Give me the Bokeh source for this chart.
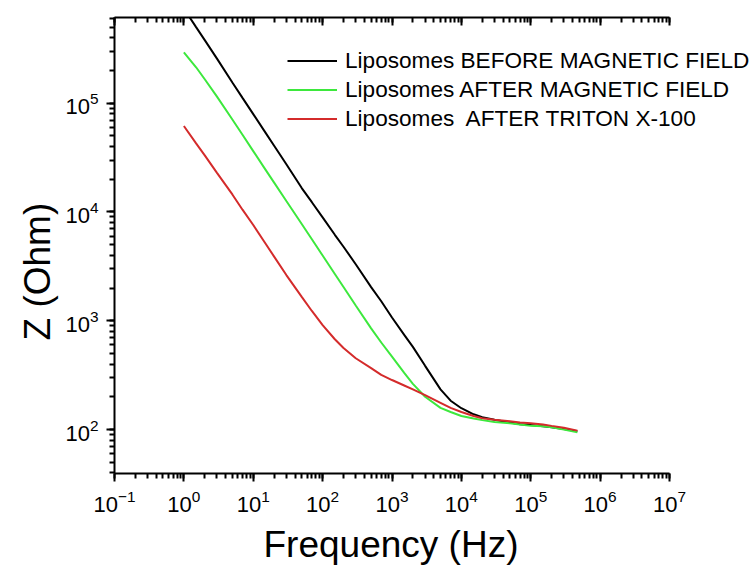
from bokeh.plotting import figure
from bokeh.models import LogAxis, LogTicker, Legend, LegendItem, CustomJSTickFormatter, Range1d, Title
from bokeh.embed import file_html
from bokeh.resources import INLINE

# ---- data ----
freq_hz = [1, 1.5, 2, 3, 5, 7, 10, 15, 20, 30, 50, 70, 100, 150, 200, 300, 500, 700,
           1000, 1500, 2000, 3000, 5000, 7000, 10000, 15000, 20000, 30000, 50000,
           70000, 100000, 150000, 200000, 300000, 470000]

z_before_field = [741000, 501000, 380000, 257000, 155000, 112000, 79400, 53700, 40700,
                  27500, 16600, 12300, 8910, 6170, 4790, 3310, 2040, 1510, 1070, 741,
                  575, 385, 234, 184, 157, 138, 130, 123, 116, 112, 110, 107, 105, 101, 96.6]

z_after_field = [294000, 214000, 166000, 115000, 70800, 51300, 36300, 24500, 18600,
                 12600, 7760, 5620, 3980, 2690, 2040, 1380, 851, 631, 468, 331, 263,
                 200, 158, 145, 133, 126, 122, 117, 114, 111, 108, 107, 105, 100, 94.4]

z_after_triton = [61700, 42700, 33100, 22900, 14500, 10500, 7590, 5130, 3890, 2630,
                  1660, 1230, 912, 676, 562, 452, 367, 318, 285, 254, 234, 207, 176,
                  158, 145, 133, 127, 123, 119, 116, 114, 111, 108, 104, 97.7]

series_labels = ["Liposomes BEFORE MAGNETIC FIELD",
                 "Liposomes AFTER MAGNETIC FIELD",
                 "Liposomes  AFTER TRITON X-100"]
series_colors = ["#000000", "#3de83d", "#d42b2b"]

x_label = "Frequency (Hz)"
y_label = "Z (Ohm)"

FONT = "Liberation Sans"

p = figure(width=751, height=572, x_axis_type="log", y_axis_type="log",
           x_range=Range1d(0.1, 1.52e8), y_range=Range1d(39.4, 6.14e5),
           output_backend="svg", toolbar_location=None,
           min_border_left=114, min_border_right=0, min_border_top=17, min_border_bottom=99)
p.grid.visible = False
p.outline_line_color = None
p.background_fill_color = "white"
p.border_fill_color = "white"

renderers = []
for ys, col in zip([z_before_field, z_after_field, z_after_triton], series_colors):
    r = p.line(freq_hz, ys, line_color=col, line_width=2)
    renderers.append(r)

p.xaxis.ticker = LogTicker(desired_num_ticks=10, num_minor_ticks=10)
p.yaxis.ticker = LogTicker(desired_num_ticks=5, num_minor_ticks=10)
p.xaxis.bounds = (0.1, 1e7)

for ax in list(p.xaxis) + list(p.yaxis):
    ax.axis_line_width = 2
    ax.axis_line_color = "black"
    ax.major_tick_line_width = 2
    ax.minor_tick_line_width = 2
    ax.major_tick_line_color = "black"
    ax.minor_tick_line_color = "black"
    ax.major_tick_out = 8
    ax.major_tick_in = 0
    ax.minor_tick_out = 5
    ax.minor_tick_in = 0
    ax.major_label_text_font = FONT
    ax.major_label_text_font_size = "22px"
    ax.major_label_text_color = "black"
    ax.major_label_standoff = 8

xtitle = Title(text=x_label, align="left", offset=149, standoff=15,
               text_font=FONT, text_font_size="37px", text_font_style="normal",
               text_color="black")
p.add_layout(xtitle, "below")

ytitle = Title(text=y_label, align="left", offset=133, standoff=6, vertical_align="top",
               text_font=FONT, text_font_size="37px", text_font_style="normal",
               text_color="black")
p.add_layout(ytitle, "left")

top = LogAxis(ticker=LogTicker(desired_num_ticks=10, num_minor_ticks=10),
              formatter=CustomJSTickFormatter(code="return ''"), bounds=(0.1, 1e7),
              axis_line_width=2, axis_line_color="black",
              major_tick_line_width=2, minor_tick_line_width=2,
              major_tick_in=8, major_tick_out=0, minor_tick_in=5, minor_tick_out=0,
              major_label_standoff=0, major_label_text_font_size="1px")
p.add_layout(top, "above")

items = [LegendItem(label=lab, renderers=[r]) for lab, r in zip(series_labels, renderers)]
legend = Legend(items=items, location=(173, 340), orientation="vertical",
                glyph_width=50, glyph_height=29, label_height=29, spacing=0,
                padding=0, margin=0, label_standoff=8,
                border_line_color=None, background_fill_alpha=0,
                label_text_font=FONT, label_text_font_size="22.6px", label_text_color="black")
p.add_layout(legend)

open("out.html", "w").write(file_html(p, INLINE))
